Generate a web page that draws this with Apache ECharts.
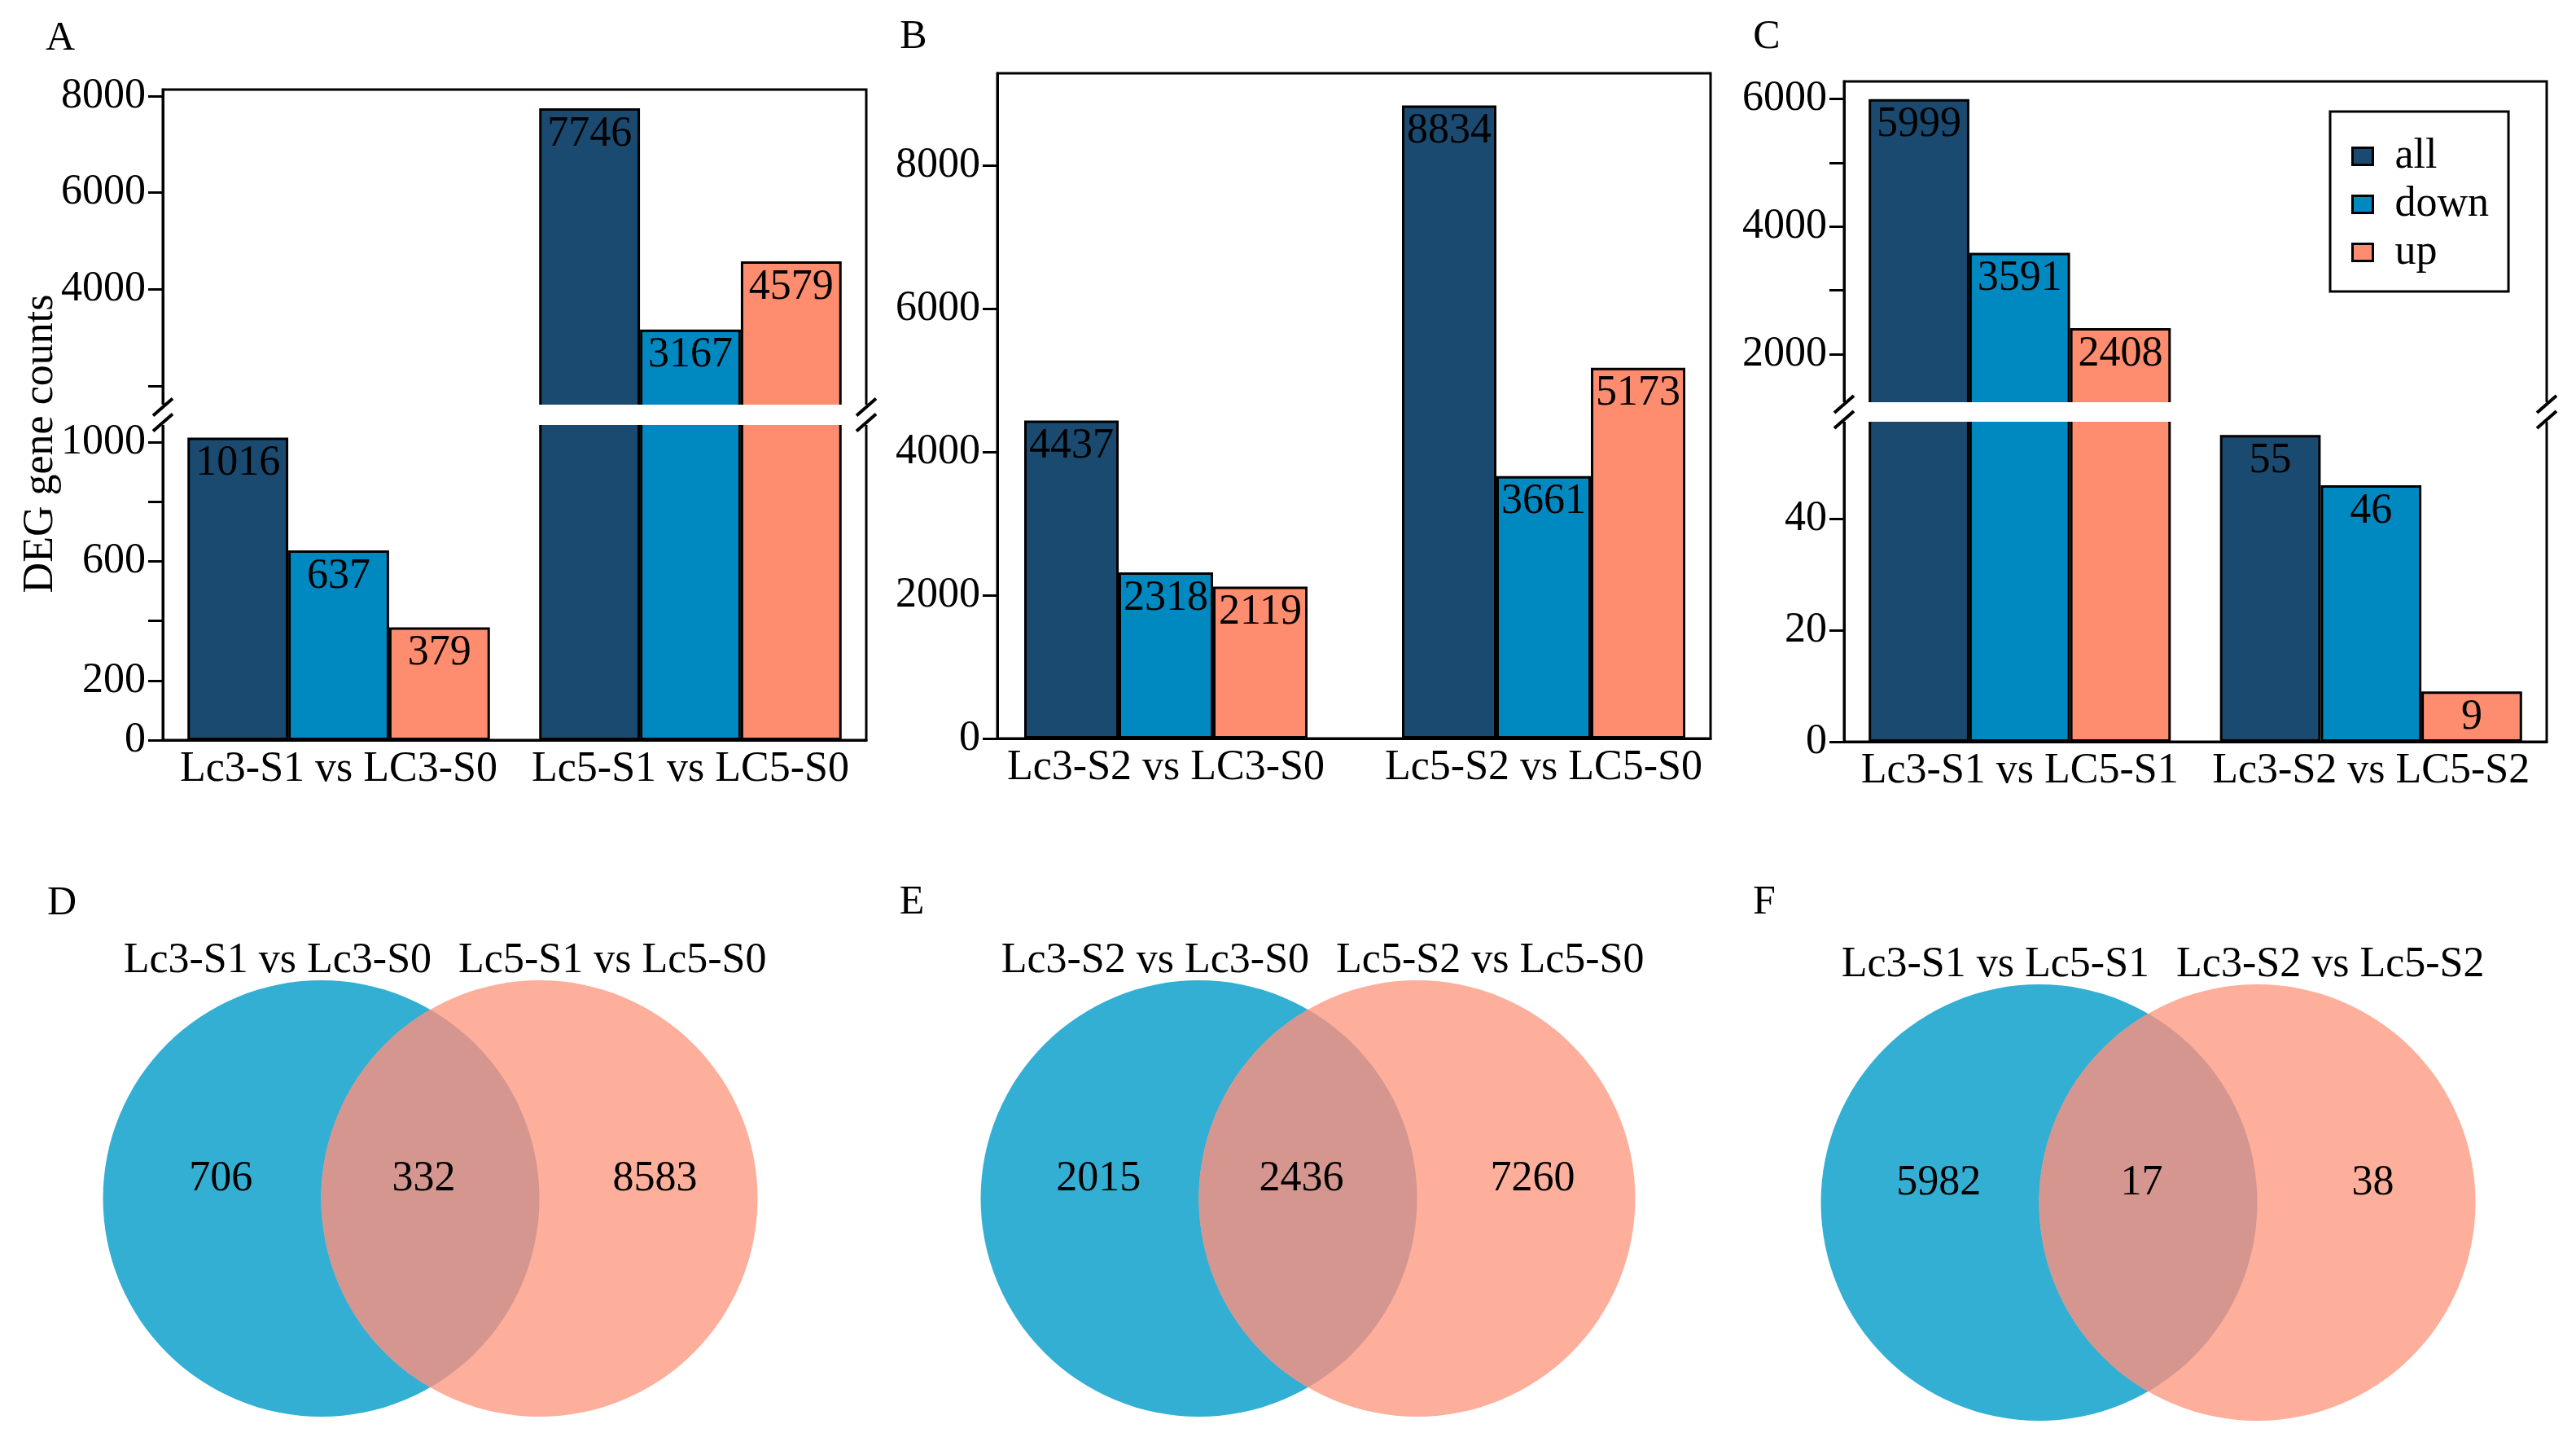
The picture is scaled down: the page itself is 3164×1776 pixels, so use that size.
<!DOCTYPE html>
<html>
<head>
<meta charset="utf-8">
<title>DEG counts and Venn diagrams</title>
<script src="https://cdn.jsdelivr.net/npm/echarts@6/dist/echarts.min.js"></script>
<style>
html, body { margin: 0; padding: 0; background: #fff; }
#chart { width: 3164px; height: 1776px; }
</style>
</head>
<body>
<div id="chart"></div>
<script>
// ---- values ----
var groupNames = ["all", "down", "up"];

var catsA = ["Lc3-S1 vs LC3-S0", "Lc5-S1 vs LC5-S0"];
var allA = [1016, 7746];
var downA = [637, 3167];
var upA = [379, 4579];

var catsB = ["Lc3-S2 vs LC3-S0", "Lc5-S2 vs LC5-S0"];
var allB = [4437, 8834];
var downB = [2318, 3661];
var upB = [2119, 5173];

var catsC = ["Lc3-S1 vs LC5-S1", "Lc3-S2 vs LC5-S2"];
var allC = [5999, 55];
var downC = [3591, 46];
var upC = [2408, 9];

var setsD = ["Lc3-S1 vs Lc3-S0", "Lc5-S1 vs Lc5-S0"];
var countsD = [706, 332, 8583];
var setsE = ["Lc3-S2 vs Lc3-S0", "Lc5-S2 vs Lc5-S0"];
var countsE = [2015, 2436, 7260];
var setsF = ["Lc3-S1 vs Lc5-S1", "Lc3-S2 vs Lc5-S2"];
var countsF = [5982, 17, 38];

// tick marks / tick labels
var ticksAUp = [2000, 4000, 6000, 8000];
var labelsAUp = [4000, 6000, 8000];
var ticksALow = [0, 200, 400, 600, 800, 1000];
var labelsALow = [0, 200, 600, 1000];
var ticksB = [0, 2000, 4000, 6000, 8000];
var ticksCUp = [2000, 3000, 4000, 5000, 6000];
var labelsCUp = [2000, 4000, 6000];
var ticksCLow = [0, 20, 40];

// ---- styling ----
var FONT = "Liberation Serif";
var FS = 52;
var LW = 3;
var barColors = ["#1b4a70", "#0089c1", "#fe8c6e"];
var vennColors = ["#34afd4", "#fdaf9b"];
var lensColor = "#d59690";

var grids = [], xAxes = [], yAxes = [], series = [], graphics = [];

function addGrid(box, show) {
	grids.push({
		left: box.left, top: box.top, width: box.width, height: box.height,
		show: show, borderColor: "#000", borderWidth: LW, backgroundColor: "transparent"
	});
	return grids.length - 1;
}

function addAxes(gi, o) {
	xAxes.push({
		gridIndex: gi, type: "category", data: o.cats,
		axisLine: { show: !!o.xLine, lineStyle: { color: "#000", width: LW } },
		axisTick: { show: false },
		axisLabel: { show: !!o.xLabel, interval: 0, color: "#000", fontSize: FS, fontFamily: FONT, margin: 10 },
		splitLine: { show: false }
	});
	yAxes.push({
		gridIndex: gi, type: "value", min: o.min, max: o.max,
		splitLine: { show: false },
		axisLine: { show: !!o.yLine, lineStyle: { color: "#000", width: LW } },
		axisTick: { show: !!o.yLine, length: 18, lineStyle: { color: "#000", width: LW }, customValues: o.ticks },
		axisLabel: {
			show: !!o.yLine, color: "#000", fontSize: FS, fontFamily: FONT, margin: 21,
			customValues: o.labels,
			formatter: function (v) { return String(v); }
		}
	});
}

// one segment of a (possibly broken) bar panel
function addBars(gi, values, lo, hi, gap, dropBelow) {
	groupNames.forEach(function (name, k) {
		series.push({
			type: "bar", name: name, xAxisIndex: gi, yAxisIndex: gi,
			barGap: "0%", barCategoryGap: gap,
			itemStyle: { color: barColors[k], borderColor: "#000", borderWidth: LW },
			label: {
				position: "insideTop", distance: 6, color: "#000",
				fontSize: FS, fontFamily: FONT
			},
			data: values[k].map(function (v) {
				if (dropBelow && v < lo) return "-";
				return { value: v, label: { show: v >= lo && v <= hi } };
			})
		});
	});
}

function addBreak(left, right, ub, lt) {
	graphics.push({
		type: "rect", z: 100, silent: true,
		shape: { x: left - 3, y: ub - 2, width: right - left + 6, height: lt - ub + 4 },
		style: { fill: "#fff" }
	});
	var yc = (ub + lt) / 2;
	[left, right].forEach(function (x) {
		[-9.5, 9.5].forEach(function (o) {
			graphics.push({
				type: "line", z: 101, silent: true,
				shape: { x1: x - 12, y1: yc + o + 10.5, x2: x + 12, y2: yc + o - 10.5 },
				style: { stroke: "#000", lineWidth: 4 }
			});
		});
	});
}

// ---- panel A : broken axis ----
(function () {
	var left = 200, width = 864;
	var vals = [allA, downA, upA];
	var lowMax = 1063.7;
	var gu = addGrid({ left: left, top: 110, width: width, height: 389 }, true);
	addAxes(gu, { cats: catsA, min: 1579, max: 8135, yLine: true, ticks: ticksAUp, labels: labelsAUp });
	addBars(gu, vals, 1579, 8135, "14%", true);
	var gl = addGrid({ left: left, top: 520, width: width, height: 389 }, true);
	addAxes(gl, { cats: catsA, min: 0, max: lowMax, yLine: true, xLine: true, xLabel: true, ticks: ticksALow, labels: labelsALow });
	addBars(gl, vals, 0, lowMax, "14%", false);
	addBreak(left, left + width, 499, 520);
})();

// ---- panel B : single axis ----
(function () {
	var gf = addGrid({ left: 1225, top: 90, width: 876, height: 817 }, true);
	addAxes(gf, { cats: catsB, min: 0, max: 9283, yLine: true, xLine: true, ticks: ticksB, labels: ticksB });
	var gb = addGrid({ left: 1200, top: 90, width: 928, height: 817 }, false);
	addAxes(gb, { cats: catsB, min: 0, max: 9283, xLabel: true });
	addBars(gb, [allB, downB, upB], 0, 9283, "25%", false);
})();

// ---- panel C : broken axis ----
(function () {
	var left = 2265, width = 863;
	var vals = [allC, downC, upC];
	var lowMax = 57.66;
	var gu = addGrid({ left: left, top: 100, width: width, height: 396 }, true);
	addAxes(gu, { cats: catsC, min: 1221, max: 6277, yLine: true, ticks: ticksCUp, labels: labelsCUp });
	addBars(gu, vals, 1221, 6277, "14%", true);
	var gl = addGrid({ left: left, top: 516, width: width, height: 395 }, true);
	addAxes(gl, { cats: catsC, min: 0, max: lowMax, yLine: true, xLine: true, xLabel: true, ticks: ticksCLow, labels: ticksCLow });
	addBars(gl, vals, 0, lowMax, "14%", false);
	addBreak(left, left + width, 496, 516);
})();

// ---- Venn panels ----
var R = 268;          // circle radius in px
var HALF = 0.5;       // centre offset, in radii
function addVenn(mid, cy, sets, counts) {
	var gi = addGrid({ left: mid - 1.8 * R, top: cy - 1.1 * R, width: 3.6 * R, height: 2.2 * R }, false);
	xAxes.push({ gridIndex: gi, type: "value", min: -1.8, max: 1.8, show: false });
	yAxes.push({ gridIndex: gi, type: "value", min: -1.1, max: 1.1, show: false });

	series.push({
		type: "custom", xAxisIndex: gi, yAxisIndex: gi, z: 2, silent: true,
		data: sets.map(function (s, i) { return { name: s, value: [i, 0] }; }),
		renderItem: function (params, api) {
			var i = params.dataIndex;
			var side = i === 0 ? -1 : 1;
			var c = api.coord([side * HALF, 0]);
			var r = api.size([1, 1])[0];
			var t = api.coord([i === 0 ? -0.7 : 0.835, 1.09]);
			return {
				type: "group",
				children: [
					{ type: "circle", z2: i, shape: { cx: c[0], cy: c[1], r: r }, style: { fill: vennColors[i] } },
					{
						type: "text", z2: 10, x: t[0], y: t[1],
						style: { text: sets[i], fill: "#000", fontSize: FS, fontFamily: FONT, align: "center", verticalAlign: "middle" }
					}
				]
			};
		}
	});

	series.push({
		type: "custom", xAxisIndex: gi, yAxisIndex: gi, z: 3, silent: true,
		data: counts.map(function (v, i) { return { value: [i, v] }; }),
		renderItem: function (params, api) {
			var i = params.dataIndex;
			var c1 = api.coord([-HALF, 0]), c2 = api.coord([HALF, 0]);
			var r = api.size([1, 1])[0];
			var pos = api.coord([[-0.96, -0.03, 1.03][i], 0.09]);
			var children = [];
			if (i === 1) {
				var th = Math.acos((c2[0] - c1[0]) / 2 / r);
				var pts = [], k, a;
				for (k = 0; k <= 80; k++) {
					a = -th + 2 * th * k / 80;
					pts.push([c1[0] + r * Math.cos(a), c1[1] + r * Math.sin(a)]);
				}
				for (k = 0; k <= 80; k++) {
					a = Math.PI - th + 2 * th * k / 80;
					pts.push([c2[0] + r * Math.cos(a), c2[1] + r * Math.sin(a)]);
				}
				children.push({ type: "polygon", shape: { points: pts }, style: { fill: lensColor } });
			}
			children.push({
				type: "text", z2: 10, x: pos[0], y: pos[1],
				style: { text: String(api.value(1)), fill: "#000", fontSize: FS, fontFamily: FONT, align: "center", verticalAlign: "middle" }
			});
			return { type: "group", children: children };
		}
	});
}
addVenn(528.5, 1472, setsD, countsD);
addVenn(1606.5, 1472, setsE, countsE);
addVenn(2638.5, 1477, setsF, countsF);

// ---- panel letters and shared y title ----
[["A", 74, 48], ["B", 1122, 46], ["C", 2170, 46], ["D", 76, 1110], ["E", 1120, 1109], ["F", 2167, 1109]].forEach(function (p) {
	graphics.push({
		type: "text", x: p[1], y: p[2], silent: true,
		style: { text: p[0], fill: "#000", fontSize: 50, fontFamily: FONT, align: "center", verticalAlign: "middle" }
	});
});
graphics.push({
	type: "text", x: 50, y: 545, rotation: Math.PI / 2, silent: true,
	style: { text: "DEG gene counts", fill: "#000", fontSize: FS, fontFamily: FONT, align: "center", verticalAlign: "middle" }
});

var chart = echarts.init(document.getElementById("chart"));
chart.setOption({
	animation: false,
	backgroundColor: "#fff",
	textStyle: { fontFamily: FONT },
	legend: {
		data: groupNames, orient: "vertical", left: 2862, top: 137,
		padding: [29, 24, 22, 26], itemGap: 7, itemWidth: 25, itemHeight: 21,
		borderColor: "#000", borderWidth: LW, icon: "rect", selectedMode: false,
		itemStyle: { borderColor: "#000", borderWidth: LW },
		textStyle: { fontSize: FS, fontFamily: FONT, color: "#000", lineHeight: 52, padding: [0, 0, 0, 22] }
	},
	grid: grids,
	xAxis: xAxes,
	yAxis: yAxes,
	series: series,
	graphic: { elements: graphics }
});
</script>
</body>
</html>
